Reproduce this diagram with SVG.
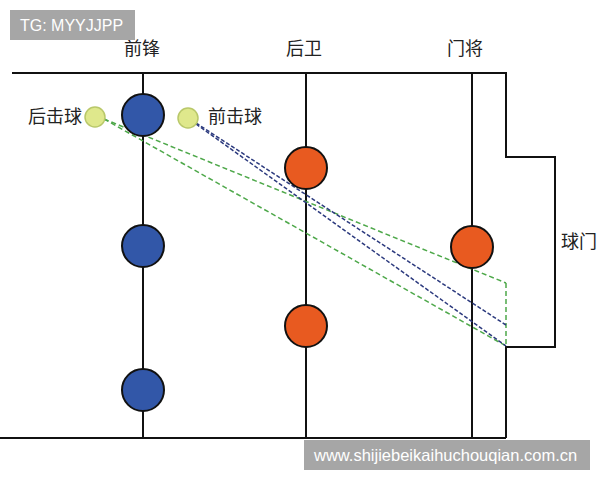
<svg xmlns="http://www.w3.org/2000/svg" width="600" height="480" viewBox="0 0 600 480">
<style>
.field{fill:none;stroke:#111;stroke-width:2}
.pl{stroke:#111;stroke-width:2}
.blue{fill:#3257a8;stroke:#111;stroke-width:2}
.orange{fill:#e85a20;stroke:#111;stroke-width:2}
.ball{fill:#dfe88c;stroke:#b9c86a;stroke-width:1.5}
.g{stroke:#4ea84a;stroke-width:1.5;stroke-dasharray:5 3;fill:none}
.b{stroke:#2c3a7e;stroke-width:1.5;stroke-dasharray:4 2;fill:none}
.lbl{font-family:"Noto Sans CJK SC","Noto Sans",sans-serif;font-size:18px;fill:#222}
.wm{fill:#a6a6a6}
.wt{font-family:"Liberation Sans",Arial,sans-serif;fill:#fff}
</style>
<rect width="600" height="480" fill="#fff"/>
<g id="field">
<polyline class="field" points="12,73 506,73 506,157 555,157 555,347 506,347 506,438"/>
<line class="field" x1="0" y1="438" x2="506" y2="438"/>
<line class="pl" x1="143" y1="73" x2="143" y2="438"/>
<line class="pl" x1="306" y1="73" x2="306" y2="438"/>
<line class="pl" x1="472" y1="73" x2="472" y2="438"/>
</g>
<g id="connectors">
<line class="g" x1="104" y1="119" x2="506" y2="283"/>
<line class="g" x1="104" y1="119" x2="506" y2="346"/>
<line class="g" x1="506" y1="283" x2="506" y2="346"/>
<line class="b" x1="196" y1="123" x2="506" y2="325"/>
<line class="b" x1="196" y1="124" x2="506" y2="346"/>
</g>
<g id="fw1"><circle class="blue" cx="143" cy="115" r="21"/></g>
<g id="fw2"><circle class="blue" cx="143" cy="246" r="21"/></g>
<g id="fw3"><circle class="blue" cx="143" cy="390" r="21"/></g>
<g id="df1"><circle class="orange" cx="306" cy="168" r="21"/></g>
<g id="df2"><circle class="orange" cx="306" cy="326" r="21"/></g>
<g id="gk"><circle class="orange" cx="472" cy="247" r="21"/></g>
<g id="ball-rear"><circle class="ball" cx="95" cy="117" r="10"/><text class="lbl" x="82" y="123" text-anchor="end">后击球</text></g>
<g id="ball-front"><circle class="ball" cx="188" cy="118" r="10"/><text class="lbl" x="208" y="123">前击球</text></g>
<g id="labels">
<text class="lbl" x="142" y="55" text-anchor="middle">前锋</text>
<text class="lbl" x="304" y="55" text-anchor="middle">后卫</text>
<text class="lbl" x="465" y="55" text-anchor="middle">门将</text>
<text class="lbl" x="561" y="248">球门</text>
</g>
<g id="watermarks">
<rect class="wm" x="10" y="10" width="125" height="30"/>
<text class="wt" x="20" y="31" font-size="16">TG: MYYJJPP</text>
<rect class="wm" x="304" y="440" width="286" height="30"/>
<text class="wt" x="314" y="461" font-size="16.5">www.shijiebeikaihuchouqian.com.cn</text>
</g>
</svg>
